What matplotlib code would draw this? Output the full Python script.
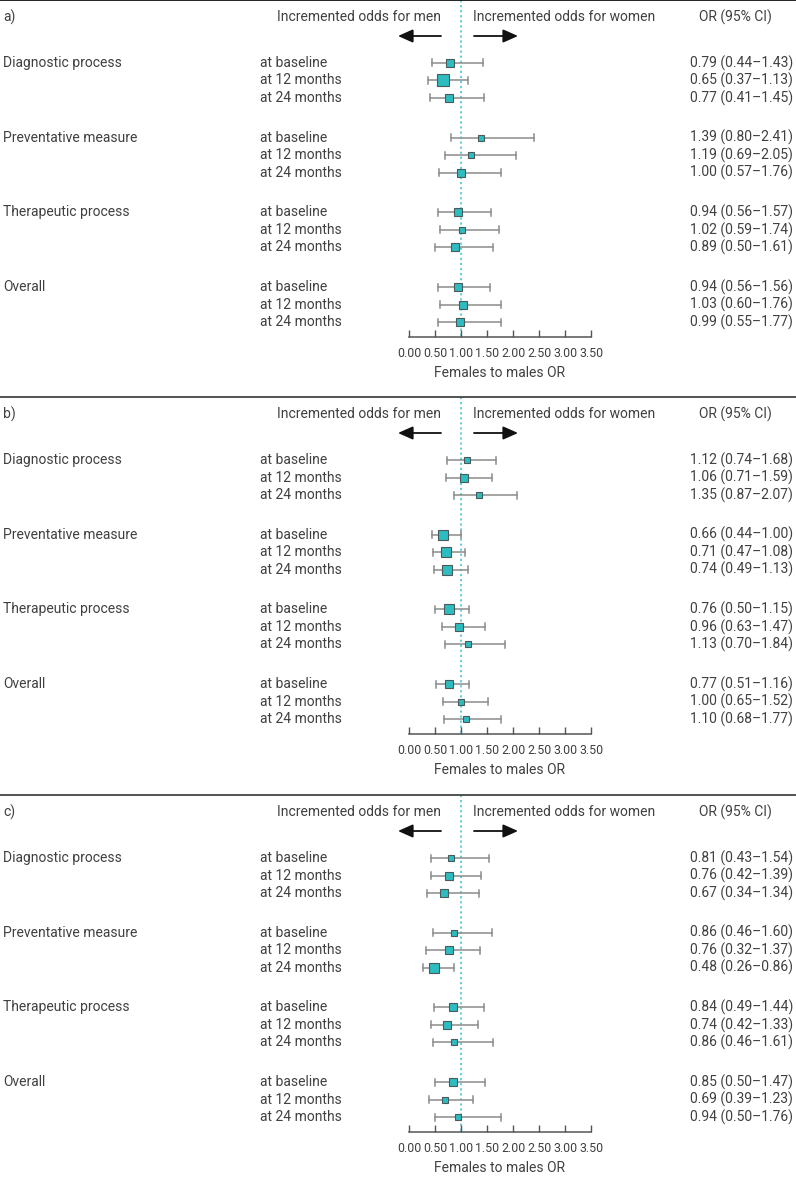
import matplotlib.pyplot as plt
from matplotlib.transforms import blended_transform_factory

# ---------------------------------------------------------
# data
# ---------------------------------------------------------
groups = ["Diagnostic process", "Preventative measure", "Therapeutic process", "Overall"]
times = ["at baseline", "at 12 months", "at 24 months"]
panels = ["a)", "b)", "c)"]

or_a = [0.79, 0.65, 0.77, 1.39, 1.19, 1.00, 0.94, 1.02, 0.89, 0.94, 1.03, 0.99]
lo_a = [0.44, 0.37, 0.41, 0.80, 0.69, 0.57, 0.56, 0.59, 0.50, 0.56, 0.60, 0.55]
hi_a = [1.43, 1.13, 1.45, 2.41, 2.05, 1.76, 1.57, 1.74, 1.61, 1.56, 1.76, 1.77]
wt_a = [7, 10, 7, 5, 5, 6, 7, 5, 7, 7, 6, 6]

or_b = [1.12, 1.06, 1.35, 0.66, 0.71, 0.74, 0.76, 0.96, 1.13, 0.77, 1.00, 1.10]
lo_b = [0.74, 0.71, 0.87, 0.44, 0.47, 0.49, 0.50, 0.63, 0.70, 0.51, 0.65, 0.68]
hi_b = [1.68, 1.59, 2.07, 1.00, 1.08, 1.13, 1.15, 1.47, 1.84, 1.16, 1.52, 1.77]
wt_b = [5, 7, 5, 9, 9, 8, 8, 6, 5, 7, 5, 4]

or_c = [0.81, 0.76, 0.67, 0.86, 0.76, 0.48, 0.84, 0.74, 0.86, 0.85, 0.69, 0.94]
lo_c = [0.43, 0.42, 0.34, 0.46, 0.32, 0.26, 0.49, 0.42, 0.46, 0.50, 0.39, 0.50]
hi_c = [1.54, 1.39, 1.34, 1.60, 1.37, 0.86, 1.44, 1.33, 1.61, 1.47, 1.23, 1.76]
wt_c = [5, 6, 6, 4, 6, 9, 6, 6, 4, 7, 5, 4]

xticks = [0.0, 0.5, 1.0, 1.5, 2.0, 2.5, 3.0, 3.5]

# ---------------------------------------------------------
# style
# ---------------------------------------------------------
plt.rcParams["font.family"] = ["Roboto", "DejaVu Sans"]
TXT = "#404040"
TEAL = "#2dbdc0"
EDGE = "#4a5a5a"
BAR = "#8c8c8c"
DPI = 100
W, H = 796, 1180
X0, PX = 409, 52.0          # pixel of OR=0 and pixels per unit

panel_top = [0, 397, 795]
panel_h = [397, 398, 385]

fig = plt.figure(figsize=(W / DPI, H / DPI), dpi=DPI)


def px2x(p):
    return (p - X0) / PX


def draw_panel(ax, label, ors, los, his, wts, top_color):
    ax.set_xlim(px2x(0), px2x(W))
    hgt = ax.get_position().height * H
    ax.set_ylim(hgt, 0)
    tr = blended_transform_factory(ax.transAxes, ax.transData)

    # panel top rule
    ax.plot([0, 1], [0, 0], transform=tr, color=top_color, lw=1.3, clip_on=False)

    # header
    ax.text(3 / W, 17, label, transform=tr, ha="left", va="center", fontsize=10, color=TXT)
    ax.text(441 / W, 17, "Incremented odds for men", transform=tr, ha="right",
            va="center", fontsize=10, color=TXT)
    ax.text(473 / W, 17, "Incremented odds for women", transform=tr, ha="left",
            va="center", fontsize=10, color=TXT)
    ax.text(735 / W, 17, "OR (95% CI)", transform=tr, ha="center", va="center",
            fontsize=10, color=TXT)
    arrow = dict(arrowstyle="-|>,head_length=0.9,head_width=0.4", color="#111111",
                 lw=1.3, shrinkA=0, shrinkB=0)
    ax.annotate("", xy=(px2x(398), 36), xytext=(px2x(441), 36), arrowprops=arrow)
    ax.annotate("", xy=(px2x(518), 36), xytext=(px2x(474), 36), arrowprops=arrow)

    axis_y = 337
    ax.plot([1, 1], [0, axis_y], color="#55ccd6", lw=1.3, ls=(0, (1.2, 1.6)), zorder=1)

    for g, grp in enumerate(groups):
        y_g = 63 + g * 74.7
        ax.text(3 / W, y_g, grp, transform=tr, ha="left", va="center", fontsize=10, color=TXT)
        for r, t in enumerate(times):
            i = g * 3 + r
            y = y_g + r * 17.5
            ax.text(260 / W, y, t, transform=tr, ha="left", va="center", fontsize=10, color=TXT)
            ax.text(793 / W, y, f"{ors[i]:.2f} ({los[i]:.2f}\u2013{his[i]:.2f})",
                    transform=tr, ha="right", va="center", fontsize=10, color=TXT)
            ax.plot([los[i], his[i]], [y, y], color=BAR, lw=1.1, zorder=2)
            for e in (los[i], his[i]):
                ax.plot([e, e], [y - 3.5, y + 3.5], color=BAR, lw=1.1, zorder=2)
            ax.plot(ors[i], y, marker="s", ms=wts[i] * 0.72 + 1, mfc=TEAL, mec=EDGE,
                    mew=0.8, zorder=3)

    # x axis
    for s in ["top", "left", "right"]:
        ax.spines[s].set_visible(False)
    ax.spines["bottom"].set_position(("data", axis_y))
    ax.spines["bottom"].set_bounds(0, 3.5)
    ax.spines["bottom"].set_color("#555555")
    ax.spines["bottom"].set_linewidth(1.1)
    ax.set_yticks([])
    ax.set_xticks(xticks)
    ax.set_xticklabels([f"{v:.2f}" for v in xticks], fontsize=8.9, color=TXT)
    ax.tick_params(axis="x", direction="in", length=5, width=1, color="#555555", pad=7)
    ax.text(1.75, 373, "Females to males OR", ha="center", va="center",
            fontsize=10, color=TXT)


data = [(or_a, lo_a, hi_a, wt_a), (or_b, lo_b, hi_b, wt_b), (or_c, lo_c, hi_c, wt_c)]
for k in range(3):
    top = panel_top[k]
    h = panel_h[k]
    ax = fig.add_axes([0, 1 - (top + h) / H, 1, h / H])
    ax.patch.set_visible(False)
    draw_panel(ax, panels[k], *data[k], top_color="#111111" if k == 0 else "#444444")

fig.savefig("out.png", dpi=DPI)
